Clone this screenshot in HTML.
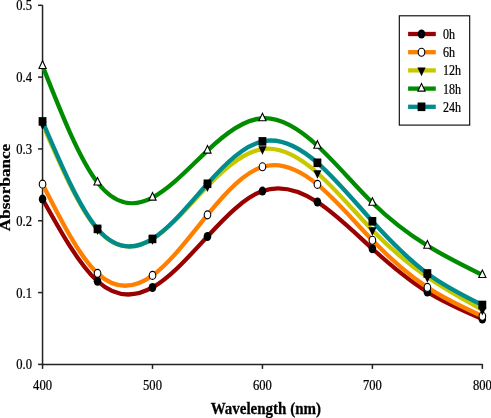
<!DOCTYPE html><html><head><meta charset="utf-8"><style>html,body{margin:0;padding:0;background:#fff;width:491px;height:418px;overflow:hidden}svg{display:block;will-change:transform}text{font-family:"Liberation Serif",serif;stroke:#000;stroke-width:0.25px}</style></head><body>
<svg width="491" height="418" viewBox="0 0 491 418">
<g stroke="#222" stroke-width="1.50" fill="none">
<path d="M42.55 5.30 V364.40 H482.35"/>
<path d="M38.05 364.40 H42.55"/>
<path d="M38.05 292.58 H42.55"/>
<path d="M38.05 220.76 H42.55"/>
<path d="M38.05 148.94 H42.55"/>
<path d="M38.05 77.12 H42.55"/>
<path d="M38.05 5.30 H42.55"/>
<path d="M42.55 364.00 V368.90"/>
<path d="M152.50 364.00 V368.90"/>
<path d="M262.45 364.00 V368.90"/>
<path d="M372.40 364.00 V368.90"/>
<path d="M482.35 364.00 V368.90"/>
</g>
<g font-size="14.00" fill="#000">
<text transform="translate(32.00,369.40) scale(0.900,1)" text-anchor="end">0.0</text>
<text transform="translate(32.00,297.58) scale(0.900,1)" text-anchor="end">0.1</text>
<text transform="translate(32.00,225.76) scale(0.900,1)" text-anchor="end">0.2</text>
<text transform="translate(32.00,153.94) scale(0.900,1)" text-anchor="end">0.3</text>
<text transform="translate(32.00,82.12) scale(0.900,1)" text-anchor="end">0.4</text>
<text transform="translate(32.00,10.30) scale(0.900,1)" text-anchor="end">0.5</text>
<text transform="translate(42.55,389.50) scale(0.900,1)" text-anchor="middle">400</text>
<text transform="translate(152.50,389.50) scale(0.900,1)" text-anchor="middle">500</text>
<text transform="translate(262.45,389.50) scale(0.900,1)" text-anchor="middle">600</text>
<text transform="translate(372.40,389.50) scale(0.900,1)" text-anchor="middle">700</text>
<text transform="translate(482.35,389.50) scale(0.900,1)" text-anchor="middle">800</text>
</g>
<text transform="translate(265.80,414.00) scale(1.000,1.060)" font-size="15.00" font-weight="bold" text-anchor="middle">Wavelength (nm)</text>
<text transform="translate(9.80,187.50) rotate(-90) scale(1.220,1.000)" font-size="14.00" font-weight="bold" text-anchor="middle">Absorbance</text>
<path d="M42.55 199.07 C60.88 231.91 79.20 264.75 97.52 281.23 C115.85 297.71 134.18 297.82 152.50 287.48 C170.82 277.14 189.15 256.34 207.47 236.49 C225.80 216.64 244.12 197.73 262.45 191.10 C280.77 184.46 299.10 190.10 317.43 202.01 C335.75 213.93 354.07 232.11 372.40 248.77 C390.72 265.43 409.05 280.55 427.38 292.01 C445.70 303.46 464.02 311.23 482.35 319.01" fill="none" stroke="#990000" stroke-width="4.30" stroke-linejoin="round"/>
<path d="M42.55 184.13 C60.88 220.16 79.20 256.19 97.52 273.33 C115.85 290.47 134.18 288.72 152.50 275.42 C170.82 262.11 189.15 237.25 207.47 214.87 C225.80 192.50 244.12 172.61 262.45 166.82 C280.77 161.04 299.10 169.36 317.43 184.42 C335.75 199.48 354.07 221.29 372.40 240.22 C390.72 259.16 409.05 275.22 427.38 287.41 C445.70 299.59 464.02 307.90 482.35 316.21" fill="none" stroke="#FF8000" stroke-width="4.30" stroke-linejoin="round"/>
<path d="M42.55 124.31 C60.88 166.31 79.20 208.31 97.52 229.31 C115.85 250.30 134.18 250.29 152.50 239.00 C170.82 227.72 189.15 205.15 207.47 186.14 C225.80 167.13 244.12 151.67 262.45 149.08 C280.77 146.49 299.10 156.78 317.43 173.00 C335.75 189.22 354.07 211.39 372.40 230.17 C390.72 248.95 409.05 264.36 427.38 277.07 C445.70 289.78 464.02 299.80 482.35 309.82" fill="none" stroke="#C8C800" stroke-width="4.30" stroke-linejoin="round"/>
<path d="M42.55 65.92 C60.88 112.33 79.20 158.75 97.52 182.48 C115.85 206.21 134.18 207.25 152.50 197.63 C170.82 188.02 189.15 167.74 207.47 150.59 C225.80 133.45 244.12 119.44 262.45 118.27 C280.77 117.11 299.10 128.78 317.43 145.71 C335.75 162.63 354.07 184.80 372.40 202.73 C390.72 220.66 409.05 234.35 427.38 245.68 C445.70 257.02 464.02 266.00 482.35 274.98" fill="none" stroke="#008C00" stroke-width="4.30" stroke-linejoin="round"/>
<path d="M42.55 121.43 C60.88 164.40 79.20 207.36 97.52 228.88 C115.85 250.39 134.18 250.47 152.50 238.93 C170.82 227.39 189.15 204.24 207.47 183.77 C225.80 163.30 244.12 145.50 262.45 141.40 C280.77 137.29 299.10 146.88 317.43 162.80 C335.75 178.72 354.07 200.98 372.40 221.26 C390.72 241.54 409.05 259.85 427.38 273.48 C445.70 287.10 464.02 296.05 482.35 305.00" fill="none" stroke="#008C8C" stroke-width="4.30" stroke-linejoin="round"/>
<ellipse cx="42.55" cy="199.07" rx="3.80" ry="4.50" fill="#000"/>
<ellipse cx="97.52" cy="281.23" rx="3.80" ry="4.50" fill="#000"/>
<ellipse cx="152.50" cy="287.48" rx="3.80" ry="4.50" fill="#000"/>
<ellipse cx="207.47" cy="236.49" rx="3.80" ry="4.50" fill="#000"/>
<ellipse cx="262.45" cy="191.10" rx="3.80" ry="4.50" fill="#000"/>
<ellipse cx="317.43" cy="202.01" rx="3.80" ry="4.50" fill="#000"/>
<ellipse cx="372.40" cy="248.77" rx="3.80" ry="4.50" fill="#000"/>
<ellipse cx="427.38" cy="292.01" rx="3.80" ry="4.50" fill="#000"/>
<ellipse cx="482.35" cy="319.01" rx="3.80" ry="4.50" fill="#000"/>
<ellipse cx="42.55" cy="184.13" rx="3.30" ry="4.00" fill="#fff" stroke="#000" stroke-width="1.10"/>
<ellipse cx="97.52" cy="273.33" rx="3.30" ry="4.00" fill="#fff" stroke="#000" stroke-width="1.10"/>
<ellipse cx="152.50" cy="275.42" rx="3.30" ry="4.00" fill="#fff" stroke="#000" stroke-width="1.10"/>
<ellipse cx="207.47" cy="214.87" rx="3.30" ry="4.00" fill="#fff" stroke="#000" stroke-width="1.10"/>
<ellipse cx="262.45" cy="166.82" rx="3.30" ry="4.00" fill="#fff" stroke="#000" stroke-width="1.10"/>
<ellipse cx="317.43" cy="184.42" rx="3.30" ry="4.00" fill="#fff" stroke="#000" stroke-width="1.10"/>
<ellipse cx="372.40" cy="240.22" rx="3.30" ry="4.00" fill="#fff" stroke="#000" stroke-width="1.10"/>
<ellipse cx="427.38" cy="287.41" rx="3.30" ry="4.00" fill="#fff" stroke="#000" stroke-width="1.10"/>
<ellipse cx="482.35" cy="316.21" rx="3.30" ry="4.00" fill="#fff" stroke="#000" stroke-width="1.10"/>
<path d="M38.45 121.44 L46.65 121.44 L42.55 130.04 Z" fill="#000"/>
<path d="M93.42 226.44 L101.62 226.44 L97.52 235.04 Z" fill="#000"/>
<path d="M148.40 236.14 L156.60 236.14 L152.50 244.74 Z" fill="#000"/>
<path d="M203.37 183.28 L211.57 183.28 L207.47 191.88 Z" fill="#000"/>
<path d="M258.35 146.22 L266.55 146.22 L262.45 154.82 Z" fill="#000"/>
<path d="M313.32 170.13 L321.53 170.13 L317.43 178.73 Z" fill="#000"/>
<path d="M368.30 227.30 L376.50 227.30 L372.40 235.90 Z" fill="#000"/>
<path d="M423.27 274.20 L431.48 274.20 L427.38 282.80 Z" fill="#000"/>
<path d="M478.25 306.95 L486.45 306.95 L482.35 315.55 Z" fill="#000"/>
<path d="M42.55 60.85 L46.15 68.45 L38.95 68.45 Z" fill="#fff" stroke="#000" stroke-width="1.10" stroke-linejoin="miter"/>
<path d="M97.52 177.41 L101.12 185.01 L93.92 185.01 Z" fill="#fff" stroke="#000" stroke-width="1.10" stroke-linejoin="miter"/>
<path d="M152.50 192.57 L156.10 200.17 L148.90 200.17 Z" fill="#fff" stroke="#000" stroke-width="1.10" stroke-linejoin="miter"/>
<path d="M207.47 145.53 L211.07 153.13 L203.87 153.13 Z" fill="#fff" stroke="#000" stroke-width="1.10" stroke-linejoin="miter"/>
<path d="M262.45 113.21 L266.05 120.81 L258.85 120.81 Z" fill="#fff" stroke="#000" stroke-width="1.10" stroke-linejoin="miter"/>
<path d="M317.43 140.64 L321.03 148.24 L313.82 148.24 Z" fill="#fff" stroke="#000" stroke-width="1.10" stroke-linejoin="miter"/>
<path d="M372.40 197.67 L376.00 205.27 L368.80 205.27 Z" fill="#fff" stroke="#000" stroke-width="1.10" stroke-linejoin="miter"/>
<path d="M427.38 240.61 L430.98 248.21 L423.77 248.21 Z" fill="#fff" stroke="#000" stroke-width="1.10" stroke-linejoin="miter"/>
<path d="M482.35 269.92 L485.95 277.52 L478.75 277.52 Z" fill="#fff" stroke="#000" stroke-width="1.10" stroke-linejoin="miter"/>
<rect x="38.65" y="117.13" width="7.80" height="8.60" fill="#000"/>
<rect x="93.62" y="224.58" width="7.80" height="8.60" fill="#000"/>
<rect x="148.60" y="234.63" width="7.80" height="8.60" fill="#000"/>
<rect x="203.57" y="179.47" width="7.80" height="8.60" fill="#000"/>
<rect x="258.55" y="137.10" width="7.80" height="8.60" fill="#000"/>
<rect x="313.53" y="158.50" width="7.80" height="8.60" fill="#000"/>
<rect x="368.50" y="216.96" width="7.80" height="8.60" fill="#000"/>
<rect x="423.48" y="269.18" width="7.80" height="8.60" fill="#000"/>
<rect x="478.45" y="300.70" width="7.80" height="8.60" fill="#000"/>
<rect x="399.30" y="15.80" width="70.40" height="109.30" fill="#fff" stroke="#000" stroke-width="1.10"/>
<path d="M408.10 34.00 H435.80" stroke="#990000" stroke-width="4.30"/>
<ellipse cx="421.50" cy="34.00" rx="3.80" ry="4.50" fill="#000"/>
<text transform="translate(442.90,39.00) scale(0.830,1)" font-size="14.50">0h</text>
<path d="M408.10 52.20 H435.80" stroke="#FF8000" stroke-width="4.30"/>
<ellipse cx="421.50" cy="52.20" rx="3.30" ry="4.00" fill="#fff" stroke="#000" stroke-width="1.10"/>
<text transform="translate(442.90,57.20) scale(0.830,1)" font-size="14.50">6h</text>
<path d="M408.10 70.40 H435.80" stroke="#C8C800" stroke-width="4.30"/>
<path d="M417.40 67.53 L425.60 67.53 L421.50 76.13 Z" fill="#000"/>
<text transform="translate(442.90,75.40) scale(0.830,1)" font-size="14.50">12h</text>
<path d="M408.10 88.60 H435.80" stroke="#008C00" stroke-width="4.30"/>
<path d="M421.50 83.53 L425.10 91.13 L417.90 91.13 Z" fill="#fff" stroke="#000" stroke-width="1.10" stroke-linejoin="miter"/>
<text transform="translate(442.90,93.60) scale(0.830,1)" font-size="14.50">18h</text>
<path d="M408.10 106.80 H435.80" stroke="#008C8C" stroke-width="4.30"/>
<rect x="417.60" y="102.50" width="7.80" height="8.60" fill="#000"/>
<text transform="translate(442.90,111.80) scale(0.830,1)" font-size="14.50">24h</text>
</svg></body></html>
